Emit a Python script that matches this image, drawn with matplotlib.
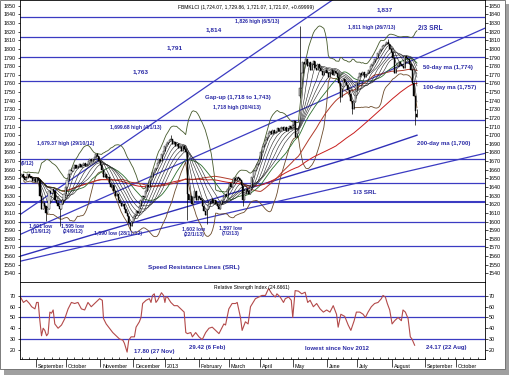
import numpy as np
import pandas as pd
import matplotlib
matplotlib.use("Agg")
import matplotlib.pyplot as plt
from matplotlib.patches import Rectangle

plt.rcParams['font.family'] = ['Liberation Sans', 'DejaVu Sans']

# ---------------- data ----------------
axis_start = "2012-08-15"        # trading-day index 0
first_day = 2                    # first candle: 17 Aug 2012
closes = [
    # Aug 2012
    1652, 1655, 1650, 1648, 1651, 1655, 1653, 1650, 1647, 1649, 1646,
    # Sep
    1650, 1648, 1630, 1615, 1622, 1618, 1610, 1614, 1635, 1633, 1638, 1635, 1625, 1622, 1618, 1615, 1620, 1625, 1632, 1640,
    # Oct
    1648, 1655, 1660, 1658, 1662, 1665, 1662, 1664, 1667, 1663, 1666, 1668, 1664, 1666, 1670, 1672, 1670, 1672, 1675, 1678, 1676, 1670, 1666,
    # Nov
    1660, 1652, 1655, 1650, 1652, 1645, 1640, 1642, 1635, 1630, 1632, 1625, 1622, 1618, 1620, 1614, 1610, 1606, 1598, 1595, 1600, 1605,
    # Dec
    1608, 1612, 1610, 1618, 1625, 1630, 1628, 1635, 1642, 1640, 1648, 1652, 1657, 1660, 1662, 1668, 1672, 1670, 1678, 1682, 1688,
    # Jan 2013
    1690, 1692, 1695, 1696, 1690, 1692, 1688, 1690, 1685, 1686, 1682, 1688, 1684, 1680, 1632, 1625, 1630, 1620, 1628, 1635, 1625, 1630, 1627,
    # Feb
    1625, 1618, 1612, 1608, 1614, 1620, 1624, 1626, 1622, 1625, 1620, 1618, 1615, 1620, 1625, 1628, 1632, 1630, 1638, 1645,
    # Mar
    1640, 1645, 1650, 1648, 1652, 1650, 1648, 1642, 1625, 1632, 1638, 1635, 1632, 1640, 1652, 1658, 1660, 1665, 1668, 1672, 1680,
    # Apr
    1686, 1690, 1695, 1698, 1702, 1705, 1701, 1706, 1702, 1704, 1708, 1705, 1708, 1710, 1706, 1709, 1705, 1708, 1711, 1708, 1712, 1716,
    # May
    1698, 1702, 1706, 1755, 1772, 1785, 1782, 1788, 1780, 1785, 1776, 1782, 1786, 1778, 1775, 1782, 1778, 1774, 1770, 1773, 1776, 1772, 1768,
    # Jun
    1772, 1776, 1770, 1774, 1772, 1768, 1760, 1744, 1755, 1765, 1762, 1758, 1752, 1748, 1740, 1730, 1738, 1752, 1762, 1768,
    # Jul
    1772, 1770, 1773, 1768, 1770, 1772, 1776, 1780, 1782, 1785, 1788, 1790, 1795, 1798, 1800, 1803, 1805, 1806, 1808, 1806, 1800, 1796, 1790,
    # Aug
    1772, 1778, 1780, 1785, 1783, 1780, 1778, 1792, 1790, 1788, 1782, 1775, 1760, 1745, 1728, 1721.07,
]
# days with notable wicks / opens (trading-day index)
wick_days = [19, 28, 53, 75, 102, 113, 126, 150, 184, 188, 215, 223, 247, 265, 266]
wick_low = [1601, 1595, np.nan, 1590, np.nan, 1602, 1597, 1618, np.nan, 1743, 1738, 1725, np.nan, 1712, 1721.07]
wick_high = [np.nan, np.nan, 1679.37, np.nan, 1699.68, 1680, np.nan, np.nan, 1718, 1826, np.nan, np.nan, 1811, np.nan, 1729.86]
open_days = [188, 266]
open_vals = [1745, 1724.07]

ribbon_periods = [4, 7, 11, 15, 19, 23]
green_period = 30
ma50_period, ma100_period = 50, 100
bb_period, bb_k = 20, 2

ma200_day = [2, 130, 220, 266]
ma200_val = [1560, 1626, 1673, 1700]

levels = [1837, 1814, 1791, 1763, 1718, 1673, 1645, 1623, 1600, 1572]
# speed resistance lines: (day, value) -> (day, value)
srl_x0 = [1.7, 1.7, 1.7]
srl_y0 = [1608, 1585, 1554]
srl_x1 = [208.4, 311.3, 311.3]
srl_y1 = [1855, 1824, 1679]

rsi_day = [2, 4, 6, 8, 9.5, 11.7, 12.8, 13.9, 15, 16.1, 17.2, 18.3, 19.5, 20.5, 21.7, 22.8, 23.9, 25, 27.2, 29.5,
           31.7, 33.9, 36.1, 38.3, 40.5, 42.8, 45, 47.2, 49.4, 51.6, 53.9, 55, 56.8, 57.6, 59.4, 61.6, 63.8, 66.1,
           68.3, 70.5, 71.6, 72.7, 73.4, 74.5, 76.1, 78.3, 79.4, 81.6, 82.7, 83.8, 86.1, 88.3, 89.4, 90.4, 91.6,
           92.7, 93.8, 94.9, 96.4, 97.8, 98.7, 99.4, 100.4, 102.7, 104.9, 107.1, 109.4, 111.6, 112.7, 113.8, 116,
           117.1, 119.3, 121.5, 123.7, 126, 128.2, 130.4, 132.7, 134.9, 136, 138.2, 139.3, 141.5, 143.7, 146, 147.1,
           148.2, 149.3, 150.4, 152.6, 154.4, 156, 159.3, 161.5, 163.7, 166, 168.1, 170.3, 172.6, 173.7, 175.9,
           178.1, 179.3, 181.5, 183.3, 184.3, 185.9, 188.1, 190.3, 192.6, 194.3, 195.9, 198.1, 200.3, 202.6, 204.8,
           207, 209.2, 211.4, 213.6, 214.7, 216.5, 219.1, 221.4, 223.2, 225.4, 226.9, 229.2, 231.4, 232.9, 234.7,
           236.9, 239.1, 241.4, 243.6, 244.7, 246.3, 247.6, 249.2, 250.8, 252.5, 254.8, 257, 258.1, 259.7, 261.5,
           263, 264.1, 265.9]
rsi_val = [69, 64, 66, 63, 60, 58, 64, 64, 47, 33, 40, 38, 33, 35, 55, 54, 57, 44, 40, 43,
           49, 58, 64, 63, 64, 58, 57, 64, 60, 63, 66, 67.5, 66, 49, 44, 40, 36, 33,
           30, 29, 26, 21, 17.8, 29, 32, 32, 41, 46, 50, 63, 66, 67.5, 64, 70.5, 72,
           64, 66, 69, 73, 70.5, 64, 69, 69, 64, 61, 61, 58, 55, 36, 35, 36,
           32, 36, 32, 29.4, 36, 40, 41, 38, 35, 38, 44, 43, 58, 63, 63, 64,
           57, 50, 38, 46, 44, 60, 67.5, 69, 70.5, 70.5, 77, 72, 69, 72, 69,
           64, 67.5, 69, 66, 50, 75, 74.5, 72, 73.5, 64, 66, 60, 63, 58, 55,
           57, 55, 61, 53, 41, 53, 51, 43, 38, 47, 55, 55, 53, 50, 55,
           60, 63, 64, 67.5, 70.5, 69, 63, 57, 44, 47, 50, 47, 57, 55, 49,
           32, 30, 24.2]
rsi_levels = [70, 50, 30]

month_labels = ["September", "October", "November", "December", "2013", "February", "March",
                "April", "May", "June", "July", "August", "September", "October"]

# ---------------- layout ----------------
W, H = 510, 375
fig = plt.figure(figsize=(W / 100, H / 100), dpi=100)
fig.patch.set_facecolor("white")
# frame + shadow
fig.patches.append(Rectangle((4 / W, 0), 506 / W, 1 - 4 / H, transform=fig.transFigure,
                             facecolor="#a0a0a0", edgecolor="none", zorder=-20))
fig.patches.append(Rectangle((0, 1 - 369 / H), 505 / W, 369 / H, transform=fig.transFigure,
                             facecolor="white", edgecolor="#666666", lw=0.6, zorder=-10))

L, R = 20 / W, 485 / W
ax = fig.add_axes([L, 1 - 282 / H, R - L, 282 / H])
axr = fig.add_axes([L, 1 - 359 / H, R - L, 77 / H])
XMIN, XMAX = 1.7, 311.3

blue_line = "#3b3bc2"
blue_txt = "#2a2aa6"

c = np.array(closes, dtype=float)
n = len(c)
days = np.arange(first_day, first_day + n)
o = np.r_[c[0], c[:-1]]
for d, v in zip(open_days, open_vals):
    o[d - first_day] = v
hi = np.maximum(o, c)
lo = np.minimum(o, c)
for d, l_, h_ in zip(wick_days, wick_low, wick_high):
    k = d - first_day
    if not np.isnan(l_):
        lo[k] = min(lo[k], l_)
    if not np.isnan(h_):
        hi[k] = max(hi[k], h_)

s = pd.Series(c, index=days)

# horizontal levels and SRL
for lv in levels:
    ax.axhline(lv, color=blue_line, lw=1.5 if lv == 1623 else 0.9, zorder=1)
for x0, y0, x1, y1 in zip(srl_x0, srl_y0, srl_x1, srl_y1):
    slope = (y1 - y0) / (x1 - x0)
    xx = np.array([XMIN, XMAX])
    ax.plot(xx, y0 + slope * (xx - x0), color=blue_line, lw=0.9, zorder=1)

# 200-day
ax.plot(ma200_day, ma200_val, color="#2f2fb8", lw=1.0, zorder=2)

# bollinger bands
mid = s.rolling(bb_period, min_periods=3).mean()
sd = s.rolling(bb_period, min_periods=3).std()
ax.plot(days, mid + bb_k * sd, color="#465a2c", lw=0.6, zorder=2)
ax.plot(days, mid - bb_k * sd, color="#6b4a2a", lw=0.6, zorder=2)

# MA ribbon
ax.plot(days, s.rolling(ma100_period, min_periods=1).mean(), color="#c81e1e", lw=0.7, zorder=2)
ax.plot(days, s.rolling(ma50_period, min_periods=1).mean(), color="#b03a2a", lw=0.7, zorder=2)
ax.plot(days, s.rolling(green_period, min_periods=1).mean(), color="#2c6e2c", lw=0.6, zorder=2)
for p in ribbon_periods:
    ax.plot(days, s.rolling(p, min_periods=1).mean(), color="#222222", lw=0.4, zorder=2)

# candles
ax.vlines(days, lo, hi, color="black", lw=0.5, zorder=3)
up = c >= o
ax.bar(days, np.maximum(np.abs(c - o), 0.8), bottom=np.minimum(o, c), width=0.7,
       color=np.where(up, "white", "black"), edgecolor="black", lw=0.3, zorder=4)

ax.set_xlim(XMIN, XMAX)
ax.set_ylim(1530, 1856.6)
ax.set_yticks(np.arange(1540, 1851, 10))
ax.set_xticks([])
ax.tick_params(axis="y", which="both", left=True, right=True, labelleft=True, labelright=True,
               labelsize=3.9, length=1.8, width=0.5, pad=1)
for sp in ax.spines.values():
    sp.set_linewidth(0.6)

# RSI panel
for lv in rsi_levels:
    axr.axhline(lv, color=blue_line, lw=0.9, zorder=1)
axr.plot(rsi_day, rsi_val, color="#b34a4a", lw=0.8, zorder=2)
axr.set_xlim(XMIN, XMAX)
axr.set_ylim(11.4, 83)
axr.set_yticks([20, 30, 40, 50, 60, 70])
axr.tick_params(axis="y", left=True, right=True, labelleft=True, labelright=True,
                labelsize=3.9, length=1.8, width=0.5, pad=1)
for sp in axr.spines.values():
    sp.set_linewidth(0.6)

# month separators and labels
bd = pd.bdate_range(axis_start, "2013-10-31")
bser = pd.Series(np.arange(len(bd)), index=bd)
mstarts = bser.groupby([bd.year, bd.month]).first().values[1:]
axr.set_xticks(mstarts - 0.5)
axr.set_xticklabels([])
axr.tick_params(axis="x", which="major", direction="out", length=6, width=0.5)
mondays = bser[bd.weekday == 0].values
axr.set_xticks(mondays, minor=True)
axr.tick_params(axis="x", which="minor", direction="in", length=1.8, width=0.5, top=False)
for m, lab in zip(mstarts, month_labels):
    axr.text(m + 0.8, -0.07, lab, transform=axr.get_xaxis_transform(), ha="left", va="top",
             fontsize=3.9, clip_on=False)

# ---------------- text ----------------
def t(px, py, txt, size=4.5, ha="center", color=blue_txt, weight="bold"):
    fig.text(px / W, 1 - py / H, txt, ha=ha, va="center", fontsize=size, color=color, fontweight=weight)

t(178, 8, "FBMKLCI (1,724.07, 1,729.86, 1,721.07, 1,721.07, +0.69999)", 3.6, "left", "black", "normal")
t(385, 10, "1,837", 4.6)
t(257, 21, "1,826 high (6/5/13)", 3.7)
t(214, 30, "1,814", 4.6)
t(372, 27, "1,811 high (26/7/13)", 3.7)
t(418, 29, "2/3 SRL", 4.8, "left")
t(175, 48, "1,791", 4.6)
t(141, 72, "1,763", 4.6)
t(423, 67, "50-day ma (1,774)", 4.3, "left")
t(205, 97, "Gap-up (1,718 to 1,743)", 4.3, "left")
t(423, 87, "100-day ma (1,757)", 4.3, "left")
t(213, 108, "1,718 high (30/4/13)", 3.7, "left")
t(110, 127, "1,699.68 high (4/1/13)", 3.7, "left")
t(37, 144, "1,679.37 high (29/10/12)", 3.7, "left")
t(417, 144, "200-day ma (1,700)", 4.3, "left")
t(365, 192, "1/3 SRL", 4.6)
t(41, 229, "1,601 low\n(11/9/12)", 3.7)
t(73, 229, "1,595 low\n(24/9/12)", 3.7)
t(118, 234, "1,590 low (28/11/12)", 3.7)
t(194, 232, "1,602 low\n(22/1/13)", 3.7)
t(231, 231, "1,597 low\n(7/2/13)", 3.7)
t(194, 267, "Speed Resistance Lines (SRL)", 4.6)
t(21, 163, "(9/12)", 3.7, "left")

t(252, 287, "Relative Strength Index (24.6661)", 3.6, "center", "black", "normal")
t(154, 351, "17.80 (27 Nov)", 4.3)
t(207, 347, "29.42 (6 Feb)", 4.3)
t(337, 349, "lowest since Nov 2012", 4.3)
t(446, 347, "24.17 (22 Aug)", 4.3)

fig.savefig("out.png", dpi=100)
